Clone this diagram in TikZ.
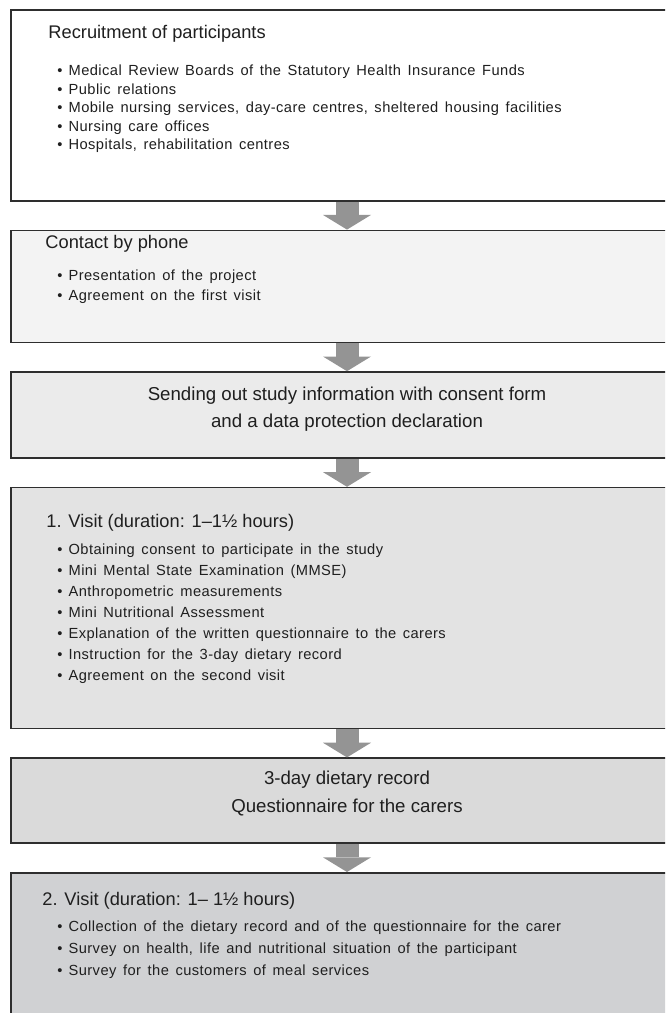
\documentclass[tikz,border=0pt]{standalone}
\usepackage{fontspec}
\setmainfont{Liberation Sans}
\usetikzlibrary{positioning}
\usetikzlibrary{arrows.meta}

\definecolor{boxline}{HTML}{2E2E2E}
\definecolor{arrowgray}{HTML}{949494}
\definecolor{fillphone}{HTML}{F3F3F3}
\definecolor{fillinfo}{HTML}{EBEBEB}
\definecolor{fillvisitA}{HTML}{E3E3E3}
\definecolor{filldiary}{HTML}{DADADA}
\definecolor{fillvisitB}{HTML}{D0D1D3}
\newcommand{\itm}{\textbullet\hspace{4.5pt}}
\newcommand{\itemfont}[1]{\fontsize{11}{#1}\selectfont\addfontfeatures{LetterSpace=3}\spaceskip=0.45em\relax}

\begin{document}
\begin{tikzpicture}[x=0.75pt,y=-0.75pt,
  stage/.style={draw=boxline, line width=1.2pt, minimum width=504pt, inner sep=0pt},
  headtext/.style={anchor=west, inner sep=0pt, text=black!88, font=\fontsize{13.7}{15}\selectfont},
  itemtext/.style={anchor=west, inner sep=0pt, align=left, text=black!88, font=\itemfont{#1}},
  midtext/.style={inner sep=0pt, align=center, text=black!88, font=\fontsize{14}{20.5}\selectfont},
  flow/.style={draw=arrowgray, line width=17.25pt, -{Triangle[width=36pt,length=11pt,line width=0pt]}},
  node distance=21pt]

 \useasboundingbox (0,0) rectangle (665,1013);
 \clip (0,0) rectangle (665,1013);
 \fill[white] (0,0) rectangle (665,1013);

 % the six stages
 \node[stage, anchor=north, minimum height=143.25pt] (recruit) at (347,9) {};
 \node[stage, fill=fillphone, minimum height=84pt, below=of recruit] (phone) {};
 \node[stage, fill=fillinfo, minimum height=64.5pt, below=of phone] (info) {};
 \node[stage, fill=fillvisitA, minimum height=180.75pt, below=of info] (visitA) {};
 \node[stage, fill=filldiary, minimum height=63.75pt, below=of visitA] (diary) {};
 \node[stage, fill=fillvisitB, minimum height=130pt, below=of diary] (visitB) {};

 % texts
 \node[headtext] (recruithead) at ([shift={(38,25)}]recruit.north west) {Recruitment of participants};
 \node[itemtext=13.9pt] (recruitlist) at ([shift={(47,100)}]recruit.north west) {\itm Medical Review Boards of the Statutory Health Insurance Funds\\
   \itm Public relations\\
   \itm Mobile nursing services, day-care centres, sheltered housing facilities\\
   \itm Nursing care offices\\
   \itm Hospitals, rehabilitation centres};

 \node[headtext] (phonehead) at ([shift={(35,14)}]phone.north west) {Contact by phone};
 \node[itemtext=15pt] (phonelist) at ([shift={(47,57)}]phone.north west) {\itm Presentation of the project\\
   \itm Agreement on the first visit};

 \node[midtext] (infotext) at ([shift={(0,38)}]info.north) {Sending out study information with consent form\\and a data protection declaration};

 \node[headtext] (visitAhead) at ([shift={(36,36)}]visitA.north west) {1. Visit (duration: 1–1½ hours)};
 \node[itemtext=15.75pt] (visitAlist) at ([shift={(47,127)}]visitA.north west) {\itm Obtaining consent to participate in the study\\
   \itm Mini Mental State Examination (MMSE)\\
   \itm Anthropometric measurements\\
   \itm Mini Nutritional Assessment\\
   \itm Explanation of the written questionnaire to the carers\\
   \itm Instruction for the 3-day dietary record\\
   \itm Agreement on the second visit};

 \node[midtext] (diarytext) at ([shift={(0,36)}]diary.north) {3-day dietary record\\Questionnaire for the carers};

 \node[headtext] (visitBhead) at ([shift={(32,29)}]visitB.north west) {2. Visit (duration: 1– 1½ hours)};
 \node[itemtext=16.5pt] (visitBlist) at ([shift={(47,78)}]visitB.north west) {\itm Collection of the dietary record and of the questionnaire for the carer\\
   \itm Survey on health, life and nutritional situation of the participant\\
   \itm Survey for the customers of meal services};

 % block arrows between the stages
 \foreach \a/\b in {recruit/phone, phone/info, info/visitA, visitA/diary, diary/visitB}
  \draw[flow] (\a.south) -- (\b.north);
\end{tikzpicture}
\end{document}
